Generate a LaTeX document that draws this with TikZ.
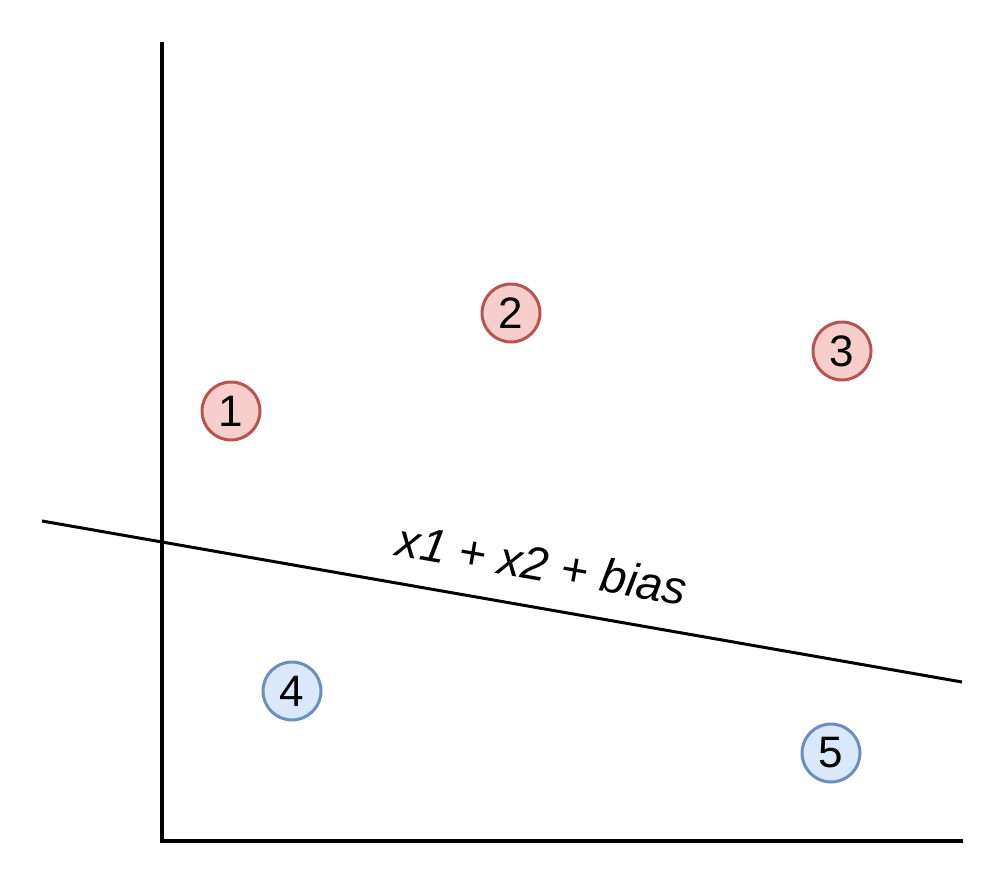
\documentclass[tikz,border=0pt]{standalone}
\usepackage{fontspec}
\setmainfont{Liberation Sans}
\definecolor{redfill}{HTML}{F8CECC}
\definecolor{redline}{HTML}{B85450}
\definecolor{bluefill}{HTML}{DAE8FC}
\definecolor{blueline}{HTML}{6C8EBF}
\begin{document}
\begin{tikzpicture}[x=1pt,y=-1pt,
  pt/.style={circle,minimum size=58pt,inner sep=0pt,line width=3pt,font=\fontsize{44}{44}\selectfont},
  redpt/.style={pt,draw=redline,fill=redfill},
  bluept/.style={pt,draw=blueline,fill=bluefill},
  axis/.style={line width=4pt,line cap=rect},
  sep/.style={line width=3pt}]
\useasboundingbox (0,0) rectangle (1008,888);
\coordinate (top) at (162,44);
\coordinate (origin) at (162,841);
\coordinate (right) at (961,841);
\draw[axis] (top) -- (origin) -- (right);
\coordinate (la) at (42,521);
\coordinate (lb) at (962,682);
\draw[sep] (la) -- (lb);
\node[rotate=-9.93,font=\fontsize{47}{47}\selectfont\itshape] (lbl) at (542,564) {x1 + x2 + bias};
\node[redpt] (p1) at (231,411) {1};
\node[redpt] (p2) at (511,313) {2};
\node[redpt] (p3) at (842,351) {3};
\node[bluept] (p4) at (292,691) {4};
\node[bluept] (p5) at (831,753) {5};
\end{tikzpicture}
\end{document}
